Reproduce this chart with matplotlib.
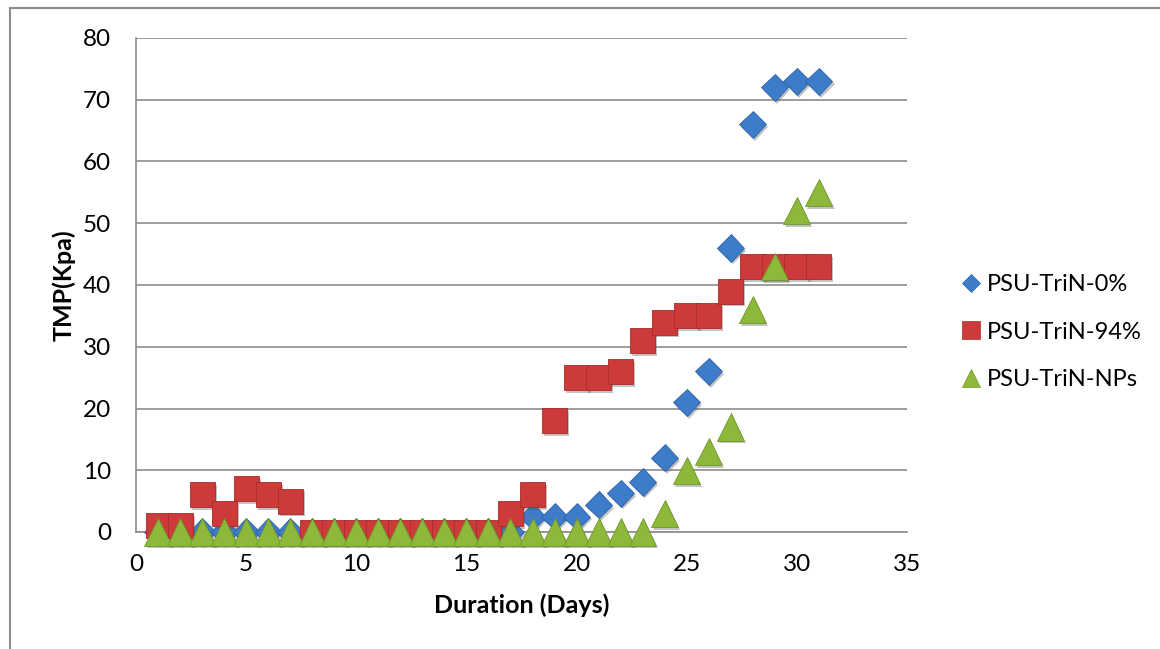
import matplotlib
matplotlib.use("Agg")
import matplotlib.pyplot as plt
import matplotlib.patheffects as pe
from matplotlib.lines import Line2D
from matplotlib.patches import Rectangle

plt.rcParams['font.family'] = ['Lato', 'DejaVu Sans']

days = list(range(1, 32))

tmp_0 = [0, 0, 0, 0, 0, 0, 0, 0, 0, 0, 0, 0, 0, 0, 0, 0, 0,
         2.5, 2.5, 2.5, 4.4, 6.3, 8.1, 12, 21, 26, 46, 66, 72, 73, 73]
tmp_94 = [1, 1, 6, 3, 7, 6, 5, 0, 0, 0, 0, 0, 0, 0, 0, 0, 3,
          6, 18, 25, 25, 26, 31, 34, 35, 35, 39, 43, 43, 43, 43]
tmp_nps = [0, 0, 0, 0, 0, 0, 0, 0, 0, 0, 0, 0, 0, 0, 0, 0, 0,
           0, 0, 0, 0, 0, 0, 3, 10, 13, 17, 36, 43, 52, 55]

series_names = ['PSU-TriN-0%', 'PSU-TriN-94%', 'PSU-TriN-NPs']
x_ticks = [0, 5, 10, 15, 20, 25, 30, 35]
y_ticks = [0, 10, 20, 30, 40, 50, 60, 70, 80]

blue, blue_edge = '#3D7CC9', '#2E62A6'
red, red_edge = '#CC3A3A', '#A82A2A'
green, green_edge = '#8DB83A', '#6F9628'

fig = plt.figure(figsize=(11.6, 6.49), dpi=100)
ax = fig.add_axes([136 / 1160, 1 - 532 / 649, (907 - 136) / 1160, (532 - 38) / 649])

shadow = [pe.SimplePatchShadow(offset=(1.5, -2), shadow_rgbFace='#555555', alpha=0.35),
          pe.Normal()]

ax.plot(days, tmp_0, linestyle='none', marker='D', ms=13.8, color=blue,
        mec=blue_edge, mew=0.6, path_effects=shadow, zorder=3, clip_on=False)
ax.plot(days, tmp_94, linestyle='none', marker='s', ms=18, color=red,
        mec=red_edge, mew=0.6, path_effects=shadow, zorder=4, clip_on=False)
ax.plot(days, tmp_nps, linestyle='none', marker='^', ms=19.5, color=green,
        mec=green_edge, mew=0.6, path_effects=shadow, zorder=5, clip_on=False)

ax.set_xlim(0, 35)
ax.set_ylim(0, 80)
ax.set_xticks(x_ticks)
ax.set_yticks(y_ticks)
ax.yaxis.grid(True, color='#8C8C8C', linewidth=1.2)
ax.set_axisbelow(True)

for side in ['top', 'right']:
    ax.spines[side].set_visible(False)
for side in ['left', 'bottom']:
    ax.spines[side].set_color('#8C8C8C')
    ax.spines[side].set_linewidth(1.2)

ax.tick_params(axis='both', length=0, labelsize=17.5, colors='black')
ax.tick_params(axis='y', pad=18)
ax.tick_params(axis='x', pad=16)

ax.set_xlabel('Duration (Days)', fontsize=18, fontweight='bold', labelpad=13)
ax.set_ylabel('TMP(Kpa)', fontsize=18, fontweight='bold', labelpad=5)

handles = [
    Line2D([], [], linestyle='none', marker='D', ms=9.5, color=blue, mec=blue_edge, mew=0.5),
    Line2D([], [], linestyle='none', marker='s', ms=12.5, color=red, mec=red_edge, mew=0.5),
    Line2D([], [], linestyle='none', marker='^', ms=13, color=green, mec=green_edge, mew=0.5),
]
fig.legend(handles, series_names, loc='center left', bbox_to_anchor=(950 / 1160, 1 - 332 / 649),
           frameon=False, fontsize=17, handlelength=0.8, handletextpad=0.25,
           labelspacing=1.12, borderpad=0)

# outer chart frame
fig.add_artist(Rectangle((10 / 1160, -0.05), 1.2, 1 - 8 / 649 + 0.05,
                         transform=fig.transFigure, fill=False,
                         edgecolor='#8C8C8C', linewidth=1.5, clip_on=False))

fig.savefig('out.png', dpi=100)
